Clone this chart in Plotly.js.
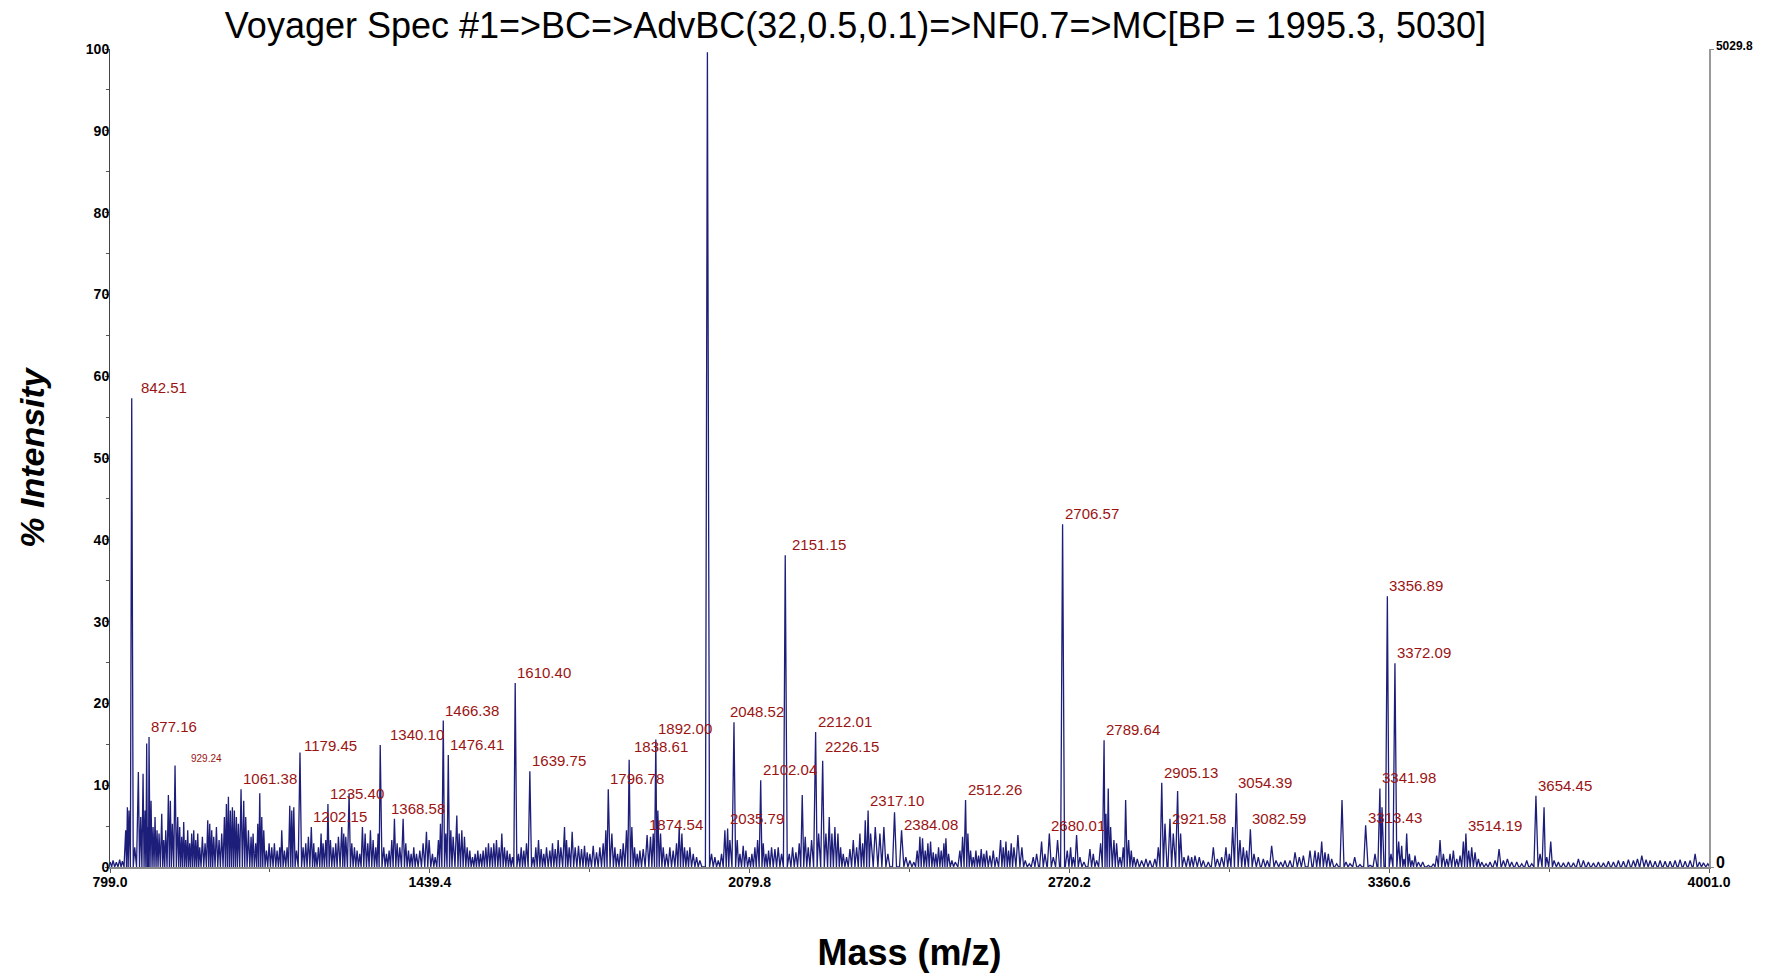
<!DOCTYPE html>
<html>
<head>
<meta charset="utf-8">
<script src="https://cdn.plot.ly/plotly-3.0.1.min.js"></script>
<style>html,body{margin:0;padding:0;background:#fff;}</style>
</head>
<body>
<div id="chart" style="width:1770px;height:973px;"></div>
<script>
// ---------- DATA ----------
const titleText = "Voyager Spec #1=>BC=>AdvBC(32,0.5,0.1)=>NF0.7=>MC[BP = 1995.3, 5030]";
const xTitle = "Mass (m/z)";
const yTitle = "% Intensity";

const xTickVals = [799.0, 1439.4, 2079.8, 2720.2, 3360.6, 4001.0];
const xMinorVals = [1119.2, 1759.6, 2400.0, 3040.4, 3680.8];
const rightAxisMax = 5029.8;

// labelled peaks (m/z, % intensity)
const labeledMz = [842.51, 877.16, 929.24, 1061.38, 1179.45, 1202.15, 1235.40, 1340.10, 1368.58, 1466.38,
  1476.41, 1610.40, 1639.75, 1796.78, 1838.61, 1874.54, 1892.00, 2035.79, 2048.52, 2102.04,
  2151.15, 2212.01, 2226.15, 2317.10, 2384.08, 2512.26, 2680.01, 2706.57, 2789.64, 2905.13,
  2921.58, 3054.39, 3082.59, 3313.43, 3341.98, 3356.89, 3372.09, 3514.19, 3654.45];
const labeledInt = [57.3, 15.9, 12.4, 9.5, 14.0, 4.9, 7.7, 14.9, 5.9, 17.9,
  13.7, 22.5, 11.7, 9.5, 13.1, 3.9, 15.6, 4.7, 17.7, 10.6,
  38.1, 16.5, 13.0, 6.9, 4.5, 8.2, 4.1, 41.9, 15.5, 10.3,
  5.9, 9.0, 4.6, 5.1, 9.6, 33.1, 24.9, 4.1, 8.7];

// base peak (unlabelled)
const basePeakMz = [1995.3];
const basePeakInt = [99.6];

// unlabelled peaks / noise, 799-1640
const noiseMzA = [799.5, 805.1, 811.7, 818.4, 823.8, 830.4, 833.8, 837.1, 848.5, 855.8,
  860.5, 865.2, 869.2, 872.5, 875.2, 881.2, 885.2, 889.2, 893.2, 897.2,
  902.6, 906.6, 910.6, 915.9, 919.9, 923.9, 934.6, 938.6, 942.6, 946.6,
  950.6, 954.6, 958.6, 962.6, 966.7, 970.7, 974.7, 978.7, 984.0, 989.4,
  994.7, 998.7, 1002.7, 1006.7, 1012.1, 1017.4, 1022.7, 1028.1, 1032.1, 1036.1,
  1040.1, 1044.1, 1048.1, 1052.1, 1056.1, 1066.8, 1070.8, 1076.2, 1081.5, 1085.5,
  1090.8, 1094.9, 1098.9, 1102.9, 1106.9, 1112.2, 1117.6, 1122.9, 1128.2, 1133.6,
  1138.9, 1142.9, 1148.3, 1153.6, 1159.0, 1163.0, 1167.0, 1172.3, 1185.7, 1191.0,
  1196.3, 1207.0, 1211.0, 1216.4, 1221.7, 1225.7, 1231.1, 1240.4, 1245.8, 1251.1,
  1256.4, 1263.1, 1267.1, 1271.1, 1277.8, 1283.2, 1288.5, 1293.8, 1299.2, 1304.5,
  1309.9, 1315.2, 1320.5, 1325.9, 1331.2, 1335.9, 1347.2, 1352.6, 1357.9, 1363.3,
  1374.0, 1379.3, 1386.0, 1391.3, 1396.7, 1402.0, 1407.3, 1412.7, 1419.4, 1426.0,
  1432.7, 1438.0, 1444.7, 1450.1, 1456.7, 1460.7, 1471.4, 1481.5, 1486.1, 1493.5,
  1498.2, 1503.5, 1508.8, 1514.2, 1519.5, 1524.9, 1530.2, 1535.5, 1540.9, 1546.2,
  1551.6, 1556.9, 1562.3, 1567.6, 1572.9, 1578.3, 1583.6, 1588.9, 1594.3, 1599.6,
  1604.9, 1617.0, 1622.4, 1627.7, 1633.0];
const noiseIntA = [0.6, 0.8, 0.6, 0.9, 0.7, 4.5, 7.3, 6.9, 2.4, 11.6,
  6.1, 11.4, 6.9, 15.1, 4.9, 8.1, 4.9, 6.1, 4.5, 4.1,
  6.5, 3.3, 4.5, 8.8, 8.1, 5.3, 6.1, 4.9, 3.7, 5.5,
  3.3, 4.5, 2.9, 4.1, 4.5, 3.3, 4.1, 2.4, 3.7, 2.9,
  5.7, 5.3, 4.5, 3.7, 4.9, 3.3, 4.1, 6.1, 7.7, 8.6,
  6.9, 7.3, 6.9, 6.1, 5.3, 8.1, 6.1, 4.5, 3.7, 4.1,
  2.9, 5.3, 9.0, 6.1, 4.5, 2.0, 2.9, 2.4, 2.9, 2.0,
  2.4, 4.5, 2.0, 2.4, 7.5, 6.9, 7.3, 2.0, 2.4, 2.9,
  3.7, 2.9, 1.8, 2.4, 4.1, 2.9, 3.3, 3.3, 2.4, 2.9,
  3.7, 4.9, 4.1, 3.7, 9.0, 2.9, 2.4, 2.0, 1.6, 4.9,
  4.1, 2.9, 4.5, 3.3, 2.4, 4.1, 2.4, 1.6, 2.0, 3.3,
  2.9, 2.4, 5.9, 2.9, 2.0, 1.6, 2.4, 1.6, 2.0, 2.9,
  4.3, 3.3, 1.6, 1.2, 3.3, 5.3, 4.1, 4.5, 3.7, 6.3,
  4.1, 4.5, 3.7, 2.4, 2.0, 1.2, 1.6, 2.0, 1.6, 2.0,
  2.4, 2.9, 2.4, 2.9, 3.3, 2.4, 4.1, 2.4, 2.0, 1.6,
  1.2, 1.6, 2.4, 2.0, 2.9];

// unlabelled peaks / noise, 1640-2340
const noiseMzB = [1646.4, 1651.7, 1657.1, 1662.4, 1667.7, 1673.1, 1679.8, 1685.1, 1690.5, 1696.5,
  1701.8, 1709.2, 1713.2, 1718.5, 1724.5, 1730.5, 1737.2, 1743.2, 1749.2, 1754.6,
  1759.9, 1766.6, 1773.3, 1779.9, 1786.6, 1791.9, 1804.0, 1810.0, 1815.3, 1821.3,
  1826.7, 1833.3, 1844.0, 1849.4, 1854.7, 1860.1, 1866.7, 1881.4, 1886.8, 1896.1,
  1901.5, 1906.8, 1913.5, 1920.1, 1926.8, 1933.5, 1938.8, 1944.2, 1949.5, 1954.9,
  1960.2, 1966.9, 1973.6, 1980.2, 2003.6, 2010.3, 2017.0, 2023.6, 2030.3,
  2040.3, 2055.0, 2060.4, 2067.0, 2072.4, 2079.1, 2084.4, 2090.4, 2095.8, 2107.1,
  2112.5, 2117.8, 2123.8, 2130.5, 2137.1, 2143.8, 2159.2, 2165.9, 2172.5, 2179.2,
  2185.2, 2191.2, 2197.2, 2203.9, 2218.0, 2232.6, 2239.3, 2244.6, 2250.6, 2256.7,
  2262.0, 2267.3, 2274.0, 2280.7, 2287.4, 2294.1, 2300.7, 2306.1, 2311.4, 2322.1,
  2331.4];
const noiseIntB = [1.2, 2.4, 3.3, 2.2, 1.6, 2.4, 2.0, 2.9, 2.2, 3.3,
  2.4, 4.9, 3.3, 2.4, 4.3, 2.4, 2.6, 2.2, 2.6, 1.8,
  1.6, 2.6, 1.8, 2.4, 2.9, 4.5, 4.1, 2.4, 1.6, 2.2,
  2.9, 4.5, 4.9, 2.4, 1.6, 2.0, 2.2, 3.7, 4.1, 6.9,
  4.1, 2.4, 1.6, 2.4, 2.0, 2.9, 4.9, 4.1, 2.4, 2.0,
  2.4, 1.6, 1.2, 0.8, 1.6, 1.2, 0.8, 1.6, 4.5,
  3.3, 3.3, 1.6, 2.6, 2.0, 1.2, 1.6, 2.4, 3.3, 2.9,
  1.6, 2.0, 2.4, 2.2, 2.4, 1.6, 1.6, 2.4, 1.8, 2.9,
  8.8, 3.7, 2.4, 3.3, 4.1, 4.1, 6.1, 4.1, 4.9, 4.1,
  2.4, 1.6, 1.2, 2.2, 3.3, 2.4, 4.1, 2.9, 5.7, 4.1,
  4.9];

// unlabelled peaks / noise, 2340-3200
const noiseMzC = [2340.7, 2348.7, 2356.7, 2370.0, 2392.7, 2400.8, 2408.8, 2415.4, 2420.8, 2426.1,
  2431.5, 2436.8, 2442.2, 2447.5, 2452.8, 2458.2, 2463.5, 2468.9, 2472.9, 2478.2,
  2484.9, 2491.6, 2500.9, 2506.3, 2516.9, 2522.3, 2527.6, 2533.0, 2538.3, 2543.6,
  2549.0, 2554.3, 2561.0, 2567.7, 2574.4, 2582.4, 2587.7, 2593.1, 2598.4, 2603.7,
  2609.1, 2617.1, 2625.1, 2631.8, 2639.8, 2647.8, 2654.5, 2664.5, 2671.2, 2687.9,
  2696.5, 2715.9, 2722.6, 2727.9, 2734.6, 2741.3, 2749.3, 2761.3, 2768.0, 2774.7,
  2782.7, 2793.4, 2798.0, 2802.7, 2809.4, 2814.7, 2821.4, 2828.1, 2832.8, 2838.8,
  2844.1, 2849.5, 2856.1, 2864.8, 2873.5, 2881.5, 2891.5, 2898.2, 2911.6, 2928.2,
  2936.9, 2942.9, 2949.6, 2958.3, 2965.0, 2971.7, 2980.3, 2988.3, 2998.4, 3008.4,
  3016.4, 3025.1, 3033.7, 3040.4, 3047.1, 3061.8, 3068.5, 3075.1, 3089.8, 3098.5,
  3108.5, 3116.5, 3125.2, 3133.9, 3143.3, 3151.9, 3161.9, 3172.0, 3180.6, 3188.7];
const noiseIntC = [4.1, 4.9, 1.6, 6.7, 1.2, 0.8, 0.6, 2.0, 3.7, 3.5,
  2.0, 2.9, 3.1, 1.8, 1.6, 2.4, 2.0, 2.9, 3.5, 1.6,
  0.8, 0.6, 2.0, 3.7, 4.1, 2.0, 1.2, 2.0, 1.4, 2.2,
  1.6, 2.0, 1.4, 2.0, 1.2, 3.3, 2.4, 3.1, 2.0, 2.9,
  2.4, 3.9, 2.4, 0.8, 0.4, 1.2, 1.6, 3.1, 1.6, 1.2,
  3.3, 2.0, 2.4, 1.2, 3.9, 1.2, 0.6, 2.2, 1.6, 0.8,
  2.9, 6.5, 9.6, 4.9, 3.3, 2.9, 1.2, 2.4, 8.2, 3.3,
  2.0, 1.2, 1.0, 0.8, 1.0, 0.8, 1.0, 2.4, 5.3, 4.1,
  9.3, 4.1, 1.2, 1.4, 1.2, 1.4, 1.2, 0.8, 0.6, 2.4,
  1.0, 1.2, 2.4, 1.6, 4.9, 3.3, 2.4, 2.0, 1.6, 1.2,
  1.0, 0.8, 2.6, 0.8, 0.6, 0.8, 0.8, 1.8, 1.2, 1.4];

// unlabelled peaks / noise, 3200-4001
const noiseMzD = [3202.0, 3212.0, 3218.7, 3225.4, 3232.0, 3238.7, 3245.4, 3255.4, 3266.1, 3274.1,
  3282.1, 3291.5, 3302.1, 3322.2, 3332.2, 3346.2, 3364.2, 3379.6, 3385.6, 3390.3,
  3395.6, 3401.0, 3406.3, 3412.3, 3419.0, 3427.7, 3439.0, 3449.0, 3455.7, 3462.4,
  3469.1, 3475.8, 3482.4, 3489.1, 3495.8, 3502.5, 3509.1, 3519.8, 3525.8, 3532.5,
  3539.2, 3545.9, 3554.5, 3562.6, 3572.6, 3580.6, 3589.3, 3597.3, 3605.9, 3616.0,
  3626.0, 3636.0, 3646.0, 3662.7, 3670.7, 3676.1, 3684.1, 3690.7, 3699.4, 3709.4,
  3719.5, 3729.5, 3739.5, 3749.5, 3759.5, 3769.5, 3779.5, 3789.6, 3799.6, 3809.6,
  3819.6, 3829.6, 3839.6, 3849.7, 3857.7, 3866.4, 3875.0, 3883.1, 3893.1, 3903.1,
  3913.1, 3923.1, 3933.1, 3943.1, 3953.2, 3963.2, 3973.2, 3981.9, 3989.9, 3998.6];
const noiseIntD = [2.0, 2.0, 1.8, 3.1, 1.8, 1.6, 1.0, 0.4, 8.2, 0.6,
  0.4, 1.2, 0.3, 0.2, 1.6, 7.3, 1.6, 3.1, 2.6, 1.0,
  4.1, 1.6, 0.8, 1.4, 0.6, 0.6, 0.2, 0.4, 1.4, 3.3,
  1.6, 1.0, 1.6, 2.0, 1.0, 1.4, 3.1, 2.0, 2.4, 1.8,
  1.0, 0.6, 0.4, 0.6, 0.8, 2.2, 0.8, 1.0, 0.6, 0.6,
  0.4, 0.8, 0.4, 1.6, 7.3, 1.2, 3.1, 0.8, 0.6, 0.5,
  0.6, 0.5, 1.0, 0.8, 0.6, 0.5, 0.6, 0.5, 0.7, 0.6,
  0.8, 0.7, 0.9, 0.8, 1.0, 1.4, 0.9, 0.8, 0.7, 0.8,
  0.7, 0.7, 0.8, 0.9, 0.7, 0.8, 1.6, 0.6, 0.5, 0.4];

// ---------- STYLE ----------
const LINE_COLOR = '#1d1d7a';
const LABEL_COLOR = '#9a1414';
const PEAK_HALF_WIDTH = 4;   // m/z, drawing width of each peak
const labelNudge = {'842.51':[7,0], '929.24':[14,0], '1340.10':[8,0], '1368.58':[-5,0],
  '2048.52':[-6,0], '2151.15':[5,0], '2921.58':[0,-10], '2384.08':[0,-5], '1838.61':[3,3],
  '2226.15':[0,4], '2680.01':[0,-3], '3313.43':[0,-3], '3514.19':[0,-3], '1179.45':[2,-4]};
const smallLabels = {'929.24': 10};
const FONT = 'Arial, "Liberation Sans", sans-serif';

// ---------- BUILD PROFILE FROM PEAK LIST ----------
function pairs(a, b) { return a.map((m, i) => [m, b[i]]); }
const peaks = [].concat(
  pairs(labeledMz, labeledInt), pairs(basePeakMz, basePeakInt),
  pairs(noiseMzA, noiseIntA), pairs(noiseMzB, noiseIntB),
  pairs(noiseMzC, noiseIntC), pairs(noiseMzD, noiseIntD)
).sort((p, q) => p[0] - q[0]);

const profX = [], profY = [];
peaks.forEach((p, i) => {
  const prev = i > 0 ? peaks[i - 1][0] : -Infinity;
  const next = i < peaks.length - 1 ? peaks[i + 1][0] : Infinity;
  const l = Math.max(p[0] - PEAK_HALF_WIDTH, (p[0] + prev) / 2);
  const r = Math.min(p[0] + PEAK_HALF_WIDTH, (p[0] + next) / 2);
  profX.push(l, p[0], r);
  profY.push(0, p[1], 0);
});

const traces = [
  {type: 'scatter', mode: 'lines', x: profX, y: profY, xaxis: 'x', yaxis: 'y',
   line: {color: LINE_COLOR, width: 1.3}, hoverinfo: 'x+y', showlegend: false},
  {type: 'scatter', mode: 'lines', x: profX, y: profY.map(v => v * rightAxisMax / 100),
   xaxis: 'x', yaxis: 'y2', line: {color: LINE_COLOR, width: 1}, opacity: 0,
   hoverinfo: 'skip', showlegend: false}
];

const annotations = labeledMz.map((m, i) => {
  const t = m.toFixed(2);
  const nd = labelNudge[t] || [0, 0];
  return {x: m, y: labeledInt[i], xref: 'x', yref: 'y', text: t, showarrow: false,
    xanchor: 'left', yanchor: 'bottom', xshift: nd[0], yshift: nd[1],
    font: {family: FONT, size: smallLabels[t] || 15, color: LABEL_COLOR}};
});

const tickFont = {family: FONT, size: 14, color: '#000', weight: 'bold'};

const layout = {
  width: 1770, height: 973,
  margin: {l: 110, r: 61, t: 49, b: 106, pad: 0},
  paper_bgcolor: '#fff', plot_bgcolor: '#fff',
  showlegend: false,
  title: {text: titleText, font: {family: FONT, size: 36, color: '#000'},
          x: 0.4833, xref: 'container', xanchor: 'center',
          y: 0.974, yref: 'container', yanchor: 'middle'},
  xaxis: {range: [xTickVals[0], xTickVals[xTickVals.length - 1]],
          tickvals: xTickVals, ticktext: xTickVals.map(v => v.toFixed(1)),
          ticks: 'outside', ticklen: 4, tickcolor: '#555', tickwidth: 1,
          ticklabelstandoff: -2,
          minor: {tickvals: xMinorVals, ticks: 'outside', ticklen: 3, tickcolor: '#555'},
          showline: true, linecolor: '#8a8a8a', linewidth: 1.5, mirror: false,
          showgrid: false, zeroline: false, tickfont: tickFont,
          title: {text: xTitle, font: {family: FONT, size: 36, weight: 'bold', color: '#000'}, standoff: 50}},
  yaxis: {range: [0, 100], dtick: 10, tick0: 0,
          ticks: 'outside', ticklen: 4, tickcolor: '#555', tickwidth: 1,
          ticklabelstandoff: -7,
          minor: {dtick: 5, ticks: 'outside', ticklen: 3, tickcolor: '#555'},
          showline: true, linecolor: '#444', linewidth: 1,
          showgrid: false, zeroline: false, tickfont: tickFont,
          title: {text: yTitle, font: {family: FONT, size: 34, weight: 'bold', style: 'italic', color: '#000'}, standoff: 30}},
  yaxis2: {overlaying: 'y', side: 'right', anchor: 'x',
           range: [0, rightAxisMax], tickvals: [0, rightAxisMax],
           ticktext: ['<span style="font-size:16px">0</span>', rightAxisMax.toFixed(1)],
           ticks: 'outside', ticklen: 3, tickcolor: '#888',
           ticklabelshift: -3,
           showline: true, linecolor: '#999', linewidth: 1.5,
           showgrid: false, zeroline: false,
           tickfont: {family: FONT, size: 12, color: '#000', weight: 'bold'}},
  annotations: annotations
};

Plotly.newPlot('chart', traces, layout, {displayModeBar: false, staticPlot: true});
</script>
</body>
</html>
